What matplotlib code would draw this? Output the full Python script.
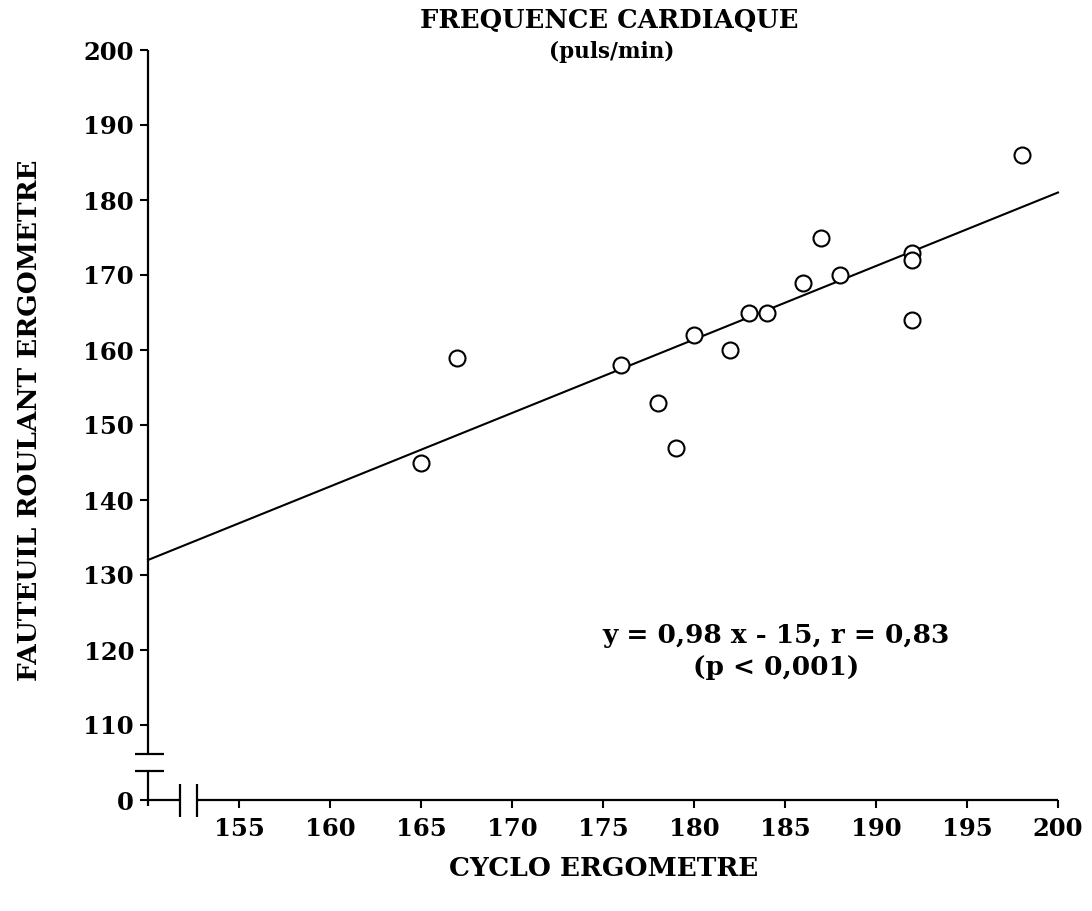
import numpy as np
import matplotlib.pyplot as plt

# Values
cyclo = [165, 167, 176, 178, 179, 180, 182, 183, 184, 186, 187, 188, 192, 192, 192, 198]
fauteuil = [145, 159, 158, 153, 147, 162, 160, 165, 165, 169, 175, 170, 173, 172, 164, 186]
slope, intercept = 0.98, -15
x_ticks = [155, 160, 165, 170, 175, 180, 185, 190, 195, 200]
y_ticks = [110, 120, 130, 140, 150, 160, 170, 180, 190, 200]

FONT = dict(family='DejaVu Serif', weight='bold')
X0, Y0 = 150, 100  # where the broken axes meet (y=0 is drawn at 100)

fig = plt.figure(figsize=(10.92, 9.11), dpi=100)
ax = fig.add_axes([148 / 1092, 1 - 800 / 911, 910 / 1092, 750 / 911])
ax.set_xlim(X0, 200)
ax.set_ylim(Y0, 200)
for s in ax.spines.values():
    s.set_visible(False)

# scatter + regression line
ax.plot(cyclo, fauteuil, 'o', ms=11.5, mfc='white', mec='black', mew=1.5, clip_on=False, zorder=3)
xl = np.array([X0, 200])
ax.plot(xl, slope * xl + intercept, color='black', lw=1.5, clip_on=False, zorder=2)

# broken axes drawn by hand
k = dict(color='black', lw=1.6, clip_on=False, solid_capstyle='butt')
ax.plot([X0, X0], [99.2, 103.9], **k)
ax.plot([X0, X0], [106.1, 200], **k)
ax.plot([149.3, 150.9], [103.9, 103.9], **k)
ax.plot([149.3, 150.9], [106.1, 106.1], **k)
ax.plot([X0, 151.76], [Y0, Y0], **k)
ax.plot([152.69, 200], [Y0, Y0], **k)
ax.plot([151.76, 151.76], [97.8, 102.2], **k)
ax.plot([152.69, 152.69], [97.8, 102.2], **k)

ax.set_xticks(x_ticks)
ax.set_xticklabels([str(v) for v in x_ticks], **FONT)
ax.set_yticks([Y0] + y_ticks)
ax.set_yticklabels(['0'] + [str(v) for v in y_ticks], **FONT)
ax.tick_params(direction='out', length=6, width=1.5, labelsize=17.5, pad=4)
ax.tick_params(axis='x', pad=6)

fig.text(0.558, 1 - 20 / 911, 'FREQUENCE CARDIAQUE', ha='center', va='center', fontsize=18.5, **FONT)
fig.text(0.560, 1 - 52 / 911, '(puls/min)', ha='center', va='center', fontsize=15.5, **FONT)
fig.text(604 / 1092, 1 - 868 / 911, 'CYCLO ERGOMETRE', ha='center', va='center', fontsize=19, **FONT)
fig.text(30 / 1092, 1 - 420 / 911, 'FAUTEUIL ROULANT ERGOMETRE', rotation=90,
         ha='center', va='center', fontsize=19, **FONT)

ax.text(0.69, 1 - (636 - 50) / 750, 'y = 0,98 x - 15, r = 0,83', transform=ax.transAxes,
        ha='center', va='center', fontsize=19, **FONT)
ax.text(0.69, 1 - (668 - 50) / 750, '(p < 0,001)', transform=ax.transAxes,
        ha='center', va='center', fontsize=19, **FONT)

fig.savefig('out.png', dpi=100)
